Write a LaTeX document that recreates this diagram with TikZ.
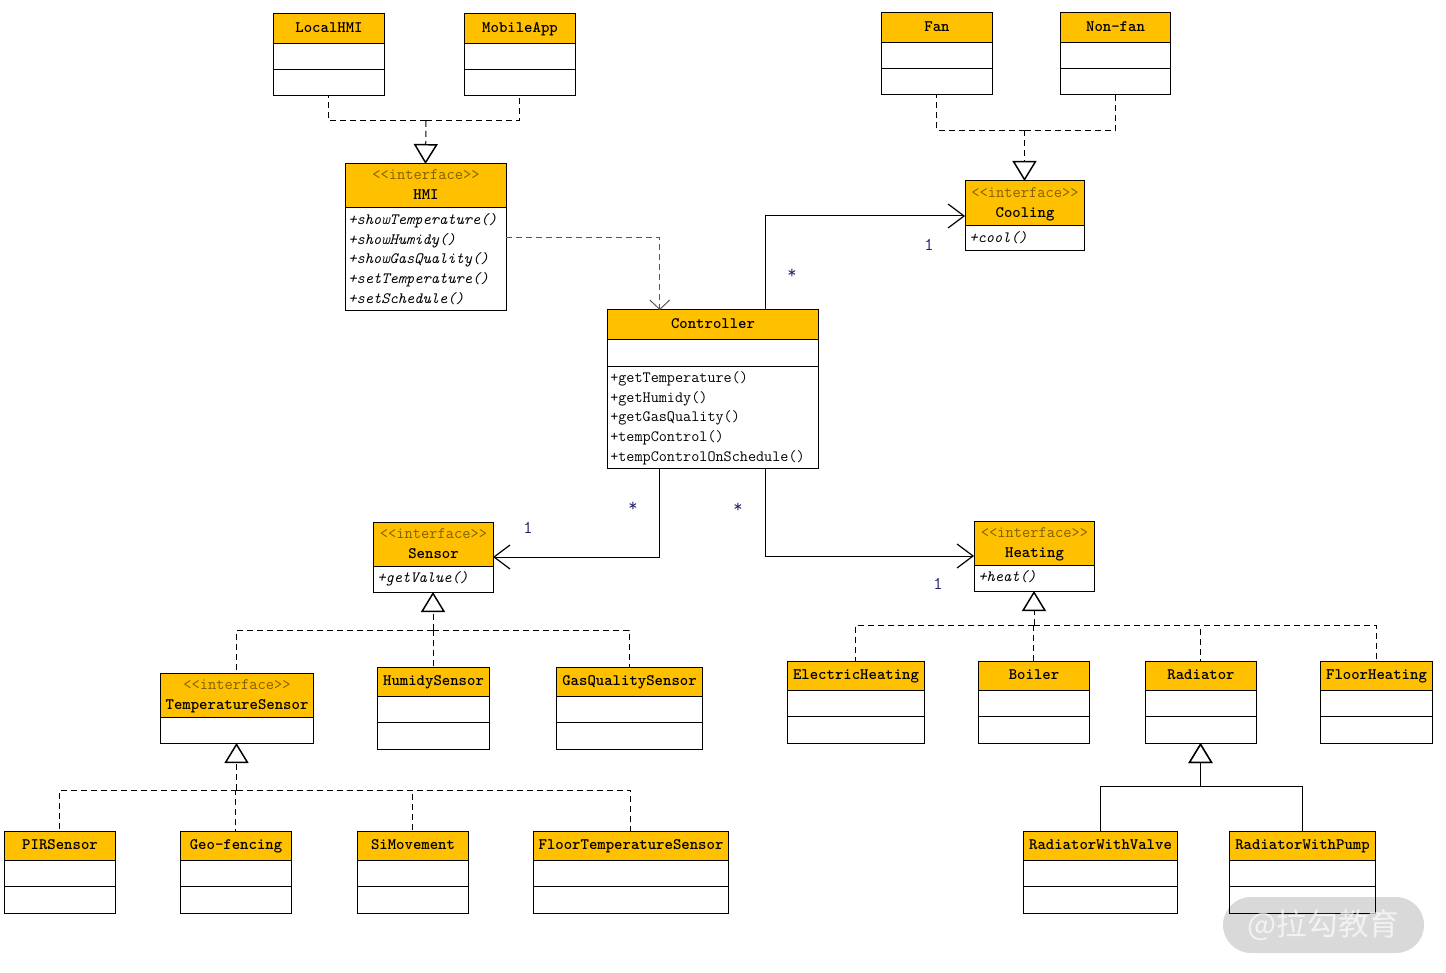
\documentclass[tikz,border=0pt]{standalone}
\usepackage{fontspec}
\usepackage{xcolor}
\usetikzlibrary{arrows.meta}
\usetikzlibrary{calc}
\newfontfamily\cjkfont{Noto Sans CJK SC}
\definecolor{headfill}{HTML}{FFC000}
\definecolor{stereotext}{HTML}{7F6000}
\definecolor{multtext}{HTML}{1F1F6F}

% frame + coloured head of one class: id, left, right, top, head bottom, bottom, title
\newcommand{\umlclass}[7]{%
  \node[classframe, minimum width={(#3-#2)*0.75pt}, minimum height={(#6-#4)*0.75pt}] (#1) at ({(#2+#3)/2},{(#4+#6)/2}) {};
  \node[classhead, minimum width={(#3-#2)*0.75pt}, minimum height={(#5+0.7-#4)*0.75pt}] (#1head) at ({(#2+#3)/2+0.5},{(#4+#5+0.7)/2}) {\strut #7};
}
% class with the two empty compartments: id, left, right, top, title
\newcommand{\plainclass}[5]{%
  \umlclass{#1}{#2}{#3}{#4}{#4+29}{#4+82}{#5}
  \draw[divider] (#2,#4+55.7) -- (#3,#4+55.7);
}
\newcommand{\iface}{{\color{stereotext}\mdseries <{}<interface>{}>}\\\strut}

\begin{document}
\begin{tikzpicture}[
  x=0.75pt, y=-0.75pt,
  font=\ttfamily\fontsize{12}{15}\selectfont,
  classframe/.style={draw, fill=white, line width=0.75pt, inner sep=0pt, outer sep=0pt},
  classhead/.style={fill=headfill, line width=0.75pt, inner sep=0pt, outer sep=0pt, align=center, font=\ttfamily\bfseries\fontsize{12}{15}\selectfont},
  divider/.style={line width=0.75pt},
  ops/.style={anchor=north west, inner sep=0pt, align=left, font=\ttfamily\fontsize{11.8}{14.7}\selectfont},
  mult/.style={text=multtext, inner sep=0pt, font=\ttfamily\fontsize{13.5}{15}\selectfont},
  branch/.style={dashed, dash pattern=on 4.5pt off 3pt, line width=0.75pt},
  realize/.style={branch, -{Triangle[fill=white, length=15pt, width=18pt, line width=1.1pt]}},
  inherit/.style={line width=0.75pt, -{Triangle[fill=white, length=15pt, width=18pt, line width=1.1pt]}},
  assoc/.style={line width=0.75pt, -{Straight Barb[length=12pt, width=18pt, line width=0.9pt]}},
  depend/.style={branch, black!65, -{Straight Barb[length=7pt, width=15pt, line width=0.75pt]}},
  wmark/.style={fill=black, fill opacity=0.15, text=white, text opacity=0.65, rounded corners=21pt, inner sep=0pt, minimum width=150.75pt, minimum height=42pt, font=\cjkfont\fontsize{23}{23}\selectfont},
  outline/.style={draw, line width=0.75pt, inner sep=0pt, outer sep=0pt}
]
\useasboundingbox (0,0) rectangle (1446,973);

% top row
\plainclass{localhmi}{273}{384}{14}{LocalHMI}
\plainclass{mobileapp}{464}{575}{14}{MobileApp}
\plainclass{fan}{881}{992}{13}{Fan}
\plainclass{nonfan}{1060}{1170}{13}{Non-fan}

% interfaces
\umlclass{hmi}{345}{506}{164}{207}{311}{\iface HMI}
\node[ops] (hmiops) at (348,213.5) {\itshape +showTemperature()\\\itshape +showHumidy()\\\itshape +showGasQuality()\\\itshape +setTemperature()\\\itshape +setSchedule()};
\umlclass{cooling}{965}{1084}{181}{225}{251}{\iface Cooling}
\node[ops] (coolingops) at (969,231) {\itshape +cool()};
\umlclass{sensor}{373}{493}{522}{566}{592}{\iface Sensor}
\node[ops] (sensorops) at (377,571) {\itshape +getValue()};
\umlclass{heating}{974}{1094}{521}{565}{591}{\iface Heating}
\node[ops] (heatingops) at (978,570) {\itshape +heat()};

% controller
\umlclass{controller}{607}{818}{310}{339}{469}{Controller}
\draw[divider] (607,366.7) -- (818,366.7);
\node[ops] (controllerops) at (610,371.5) {+getTemperature()\\+getHumidy()\\+getGasQuality()\\+tempControl()\\+tempControlOnSchedule()};

% sensors
\umlclass{tempsensor}{160}{313}{673}{717}{743}{\iface TemperatureSensor}
\plainclass{humidysensor}{377}{489}{667}{HumidySensor}
\plainclass{gassensor}{556}{702}{667}{GasQualitySensor}
\plainclass{pirsensor}{4}{115}{831}{PIRSensor}
\plainclass{geofencing}{180}{291}{831}{Geo-fencing}
\plainclass{simovement}{357}{468}{831}{SiMovement}
\plainclass{floorsensor}{533}{728}{831}{FloorTemperatureSensor}

% heaters
\plainclass{electric}{787}{924}{661}{ElectricHeating}
\plainclass{boiler}{978}{1089}{661}{Boiler}
\plainclass{radiator}{1145}{1256}{661}{Radiator}
\plainclass{floorheating}{1320}{1432}{661}{FloorHeating}
\plainclass{radvalve}{1023}{1177}{831}{RadiatorWithValve}
\plainclass{radpump}{1229}{1375}{831}{RadiatorWithPump}

% head rules and frames over the fills
\foreach \cls/\left/\right/\ybar in {localhmi/273/384/43.7, mobileapp/464/575/43.7, fan/881/992/42.7, nonfan/1060/1170/42.7,
    hmi/345/506/207.7, cooling/965/1084/225.7, sensor/373/493/566.7, heating/974/1094/565.7,
    controller/607/818/339.7, tempsensor/160/313/717.7, humidysensor/377/489/696.7, gassensor/556/702/696.7,
    pirsensor/4/115/860.7, geofencing/180/291/860.7, simovement/357/468/860.7, floorsensor/533/728/860.7,
    electric/787/924/690.7, boiler/978/1089/690.7, radiator/1145/1256/690.7, floorheating/1320/1432/690.7,
    radvalve/1023/1177/860.7, radpump/1229/1375/860.7} {
  \draw[divider] (\left,\ybar) -- (\right,\ybar);
  \draw[divider] (\cls.north west) rectangle (\cls.south east);
}

% joints of the hierarchies
\coordinate (hmijoin) at (426,121);
\coordinate (coolingjoin) at (1024.5,130.5);
\coordinate (sensorjoin) at (433,630);
\coordinate (tempjoin) at (236.5,790);
\coordinate (heatingjoin) at (1034,625);
\coordinate (radjoin) at (1200.5,786);

\foreach \child in {localhmi, mobileapp}
  \draw[branch] (hmijoin) -| (\child.south);
\draw[realize] (hmijoin) -- (hmi.north);

\foreach \child in {fan, nonfan}
  \draw[branch] (coolingjoin) -| (\child.south);
\draw[realize] (coolingjoin) -- (cooling.north);

\foreach \child in {tempsensor, humidysensor, gassensor}
  \draw[branch] (sensorjoin) -| (\child.north);
\draw[realize] (sensorjoin) -- (sensor.south);

\foreach \child in {pirsensor, geofencing, simovement, floorsensor}
  \draw[branch] (tempjoin) -| (\child.north);
\draw[realize] (tempjoin) -- (tempsensor.south);

\foreach \child in {electric, boiler, radiator, floorheating}
  \draw[branch] (heatingjoin) -| (\child.north);
\draw[realize] (heatingjoin) -- (heating.south);

\draw[inherit] (radvalve.north) |- (radjoin) -- (radiator.south);
\draw[inherit] (radpump.north) |- (radjoin) -- (radiator.south);

% controller links
\draw[depend] (hmi.east) -| ($(controller.north west)!0.25!(controller.north east)$);
\draw[assoc] ($(controller.north west)!0.75!(controller.north east)$) |- (cooling.west);
\draw[assoc] ($(controller.south west)!0.25!(controller.south east)$) |- (sensor.east);
\draw[assoc] ($(controller.south west)!0.75!(controller.south east)$) |- (heating.west);

\node[mult] (coolmany) at (792,274) {*};
\node[mult] (coolone) at (929,245) {1};
\node[mult] (sensormany) at (633,507) {*};
\node[mult] (sensorone) at (528,528) {1};
\node[mult] (heatmany) at (738,508) {*};
\node[mult] (heatone) at (938,584) {1};

\node[wmark] (watermark) at (1323.5,925) {@拉勾教育};

\end{tikzpicture}
\end{document}
